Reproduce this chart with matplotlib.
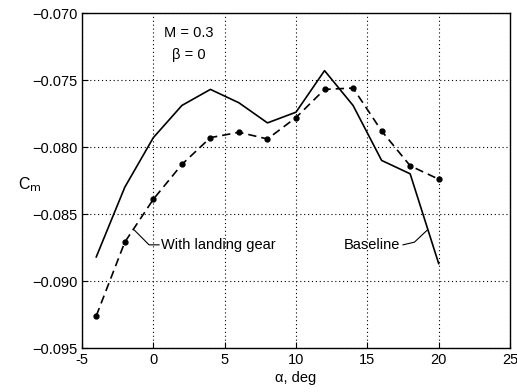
import matplotlib
matplotlib.use("Agg")
import matplotlib.pyplot as plt

plt.rcParams['font.family'] = ['Liberation Sans', 'DejaVu Sans']

alpha = [-4, -2, 0, 2, 4, 6, 8, 10, 12, 14, 16, 18, 20]
cm_baseline = [-0.0882, -0.0830, -0.0793, -0.0769, -0.0757, -0.0767, -0.0782,
               -0.0774, -0.0743, -0.0769, -0.0810, -0.0820, -0.0887]
cm_gear = [-0.0926, -0.0871, -0.0839, -0.0813, -0.0793, -0.0789, -0.0794,
           -0.0778, -0.0757, -0.0756, -0.0788, -0.0814, -0.0824]
xticks = [-5, 0, 5, 10, 15, 20, 25]
yticks = [-0.095, -0.090, -0.085, -0.080, -0.075, -0.070]

fig = plt.figure(figsize=(5.17, 3.92), dpi=100)
ax = fig.add_axes([0.1586, 0.1122, 0.8279, 0.8546])

ax.plot(alpha, cm_baseline, color='black', lw=1.2, ls='-')
ax.plot(alpha, cm_gear, color='black', lw=1.2, ls=(0, (5, 3)),
        marker='o', ms=3.5, mfc='black', mec='black')

ax.set_xlim(-5, 25)
ax.set_ylim(-0.095, -0.070)
ax.set_xticks(xticks)
ax.set_yticks(yticks)
ax.set_xticklabels([str(t) for t in xticks])
ax.set_yticklabels(['\u2212%.3f' % abs(t) for t in yticks])
ax.tick_params(direction='in', length=4, labelsize=10.5, color='black')
ax.grid(True, color='black', ls=(0, (1, 2.5)), lw=0.8)
for s in ax.spines.values():
    s.set_linewidth(1.0)

ax.set_xlabel('\u03b1, deg', fontsize=10.5, labelpad=3)
fig.text(30 / 517, 1 - 185 / 392, r'C$_{\mathrm{m}}$', fontsize=11.5,
         ha='center', va='center')

ax.text(2.5, -0.0715, 'M = 0.3', ha='center', va='center', fontsize=10.5)
ax.text(2.5, -0.0731, '\u03b2 = 0', ha='center', va='center', fontsize=10.5)

# leader lines
ax.text(0.55, -0.0873, 'With landing gear', ha='left', va='center', fontsize=10.5)
ax.plot([-1.33, -0.3, 0.4], [-0.0862, -0.0873, -0.0873], color='black', lw=0.8)
ax.text(17.3, -0.0873, 'Baseline', ha='right', va='center', fontsize=10.5)
ax.plot([17.5, 18.3, 19.2], [-0.0873, -0.0871, -0.0862], color='black', lw=0.8)

fig.savefig('out.png', dpi=100)
